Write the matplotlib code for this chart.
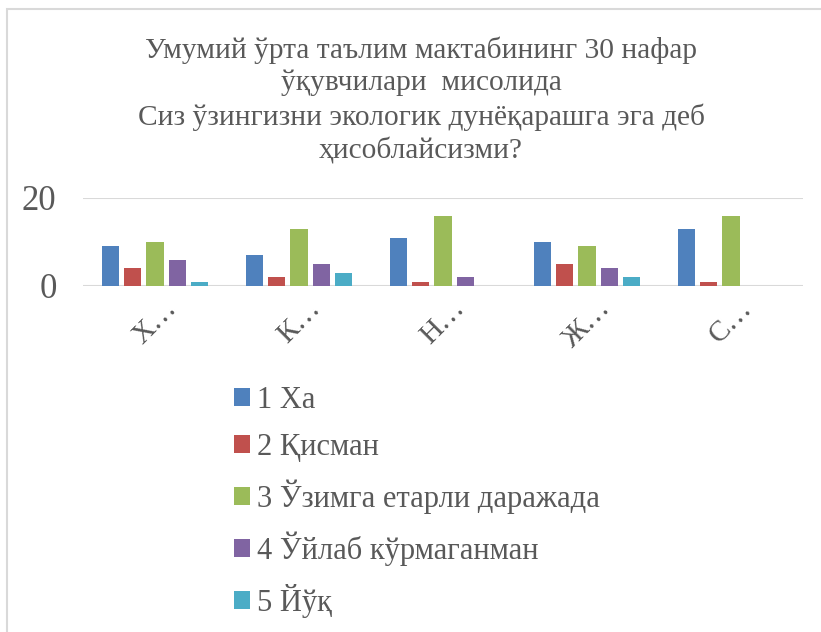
import matplotlib
matplotlib.use('Agg')
import matplotlib.pyplot as plt
from matplotlib.patches import Rectangle
import numpy as np

plt.rcParams['font.family'] = ['Liberation Serif', 'DejaVu Serif']

# data
categories = ['Х…', 'К…', 'Н…', 'Ж…', 'С…']
series_names = ['1 Ха', '2 Қисман', '3 Ўзимга етарли даражада',
                '4 Ўйлаб кўрмаганман', '5 Йўқ']
ha_vals = [9, 7, 11, 10, 13]
qisman_vals = [4, 2, 1, 5, 1]
etarli_vals = [10, 13, 16, 9, 16]
uylab_vals = [6, 5, 2, 4, 0]
yuq_vals = [1, 3, 0, 2, 0]
series_vals = [ha_vals, qisman_vals, etarli_vals, uylab_vals, yuq_vals]
colors = ['#4F81BD', '#C0504D', '#9BBB59', '#8064A2', '#4BACC6']

title = ('Умумий ўрта таълим мактабининг 30 нафар\n'
         'ўқувчилари  мисолида\n'
         'Сиз ўзингизни экологик дунёқарашга эга деб\n'
         'ҳисоблайсизми?')

text_col = '#595959'
grid_col = '#D9D9D9'

fig = plt.figure(figsize=(8.21, 6.32), dpi=100)
W, H = 821, 632

# chart border (light grey, runs off the right and bottom edges)
fig.patches.append(Rectangle((7 / W, -0.05), 1.1, 1 - 9 / H + 0.05,
                             transform=fig.transFigure, fill=False,
                             edgecolor=grid_col, linewidth=1.5))

ax = fig.add_axes([83 / W, 1 - 286 / H, 720 / W, 88 / H])

x = np.arange(len(categories))
pitch = 0.155
width = 0.122
for i, (vals, name, c) in enumerate(zip(series_vals, series_names, colors)):
    ax.bar(x + (i - 2) * pitch, vals, width, color=c, label=name, zorder=3)

ax.set_xlim(-0.5, len(categories) - 0.5)
ax.set_ylim(0, 20)
ax.set_yticks([0, 20])
ax.set_xticks(x)
ax.set_xticklabels(categories, rotation=45, ha='center', fontsize=21,
                   color=text_col)
ax.tick_params(axis='x', length=0, pad=7)
ax.tick_params(axis='y', length=0, pad=19, labelsize=25, labelcolor=text_col)
for s in ax.spines.values():
    s.set_visible(False)
ax.yaxis.grid(True, color=grid_col, linewidth=1.5, zorder=0)
ax.set_axisbelow(True)

fig.text(421 / W, 1 - 36 / H, title, ha='center', va='top', fontsize=21.2,
         color=text_col, linespacing=1.31)

handles, labels = ax.get_legend_handles_labels()
fig.legend(handles, labels, loc='upper left',
           bbox_to_anchor=(234 / W, 1 - 386 / H), frameon=False,
           fontsize=22, handlelength=0.52, handleheight=0.52,
           handletextpad=0.23, labelspacing=0.58, borderpad=0,
           borderaxespad=0, labelcolor=text_col)

fig.savefig('out.png', dpi=100)
